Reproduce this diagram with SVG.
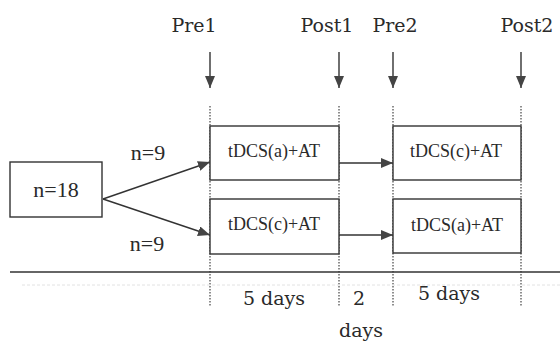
<svg xmlns="http://www.w3.org/2000/svg" width="560" height="344" viewBox="0 0 560 344">
<style>
.lbl{font-family:"DejaVu Serif",serif;font-size:19px;text-anchor:middle;fill:#2a2a2a}
.box{font-family:"Liberation Serif",serif;font-size:18px;text-anchor:middle;fill:#2a2a2a}
.n{font-family:"Liberation Serif",serif;font-size:22px;text-anchor:middle;fill:#2a2a2a}
rect{fill:#fff;stroke:#333;stroke-width:1.4}
.ln{stroke:#333;stroke-width:1.4;fill:none}
.dot{stroke:#444;stroke-width:1.2;stroke-dasharray:1.5 1.5;fill:none}
</style>
<defs>
<marker id="ah" markerWidth="12" markerHeight="10" refX="12" refY="5" orient="auto" markerUnits="userSpaceOnUse">
<path d="M0,0 L12,5 L0,10 Z" fill="#444"/>
</marker>
</defs>
<g id="timeline">
<path class="dot" d="M210,106V306M339,106V306M393,106V306M521,106V306"/>
<path class="ln" d="M10,272H560"/>
<path d="M22,285H560" stroke="#e2e2e2" stroke-width="1" stroke-dasharray="3 2"/>
</g>
<g id="labels">
<text class="lbl" x="194" y="32">Pre1</text>
<text class="lbl" x="327" y="32">Post1</text>
<text class="lbl" x="395" y="32">Pre2</text>
<text class="lbl" x="527" y="32">Post2</text>
<text class="n" x="148" y="160">n=9</text>
<text class="n" x="147" y="251">n=9</text>
<text class="lbl" x="274" y="305">5 days</text>
<text class="lbl" x="359" y="305">2</text>
<text class="lbl" x="361" y="337">days</text>
<text class="lbl" x="449" y="300">5 days</text>
</g>
<g id="connectors">
<path class="ln" marker-end="url(#ah)" d="M210,52V88"/>
<path class="ln" marker-end="url(#ah)" d="M339,52V88"/>
<path class="ln" marker-end="url(#ah)" d="M393,52V88"/>
<path class="ln" marker-end="url(#ah)" d="M521,52V88"/>
<path class="ln" marker-end="url(#ah)" d="M103,199L210,162"/>
<path class="ln" marker-end="url(#ah)" d="M103,199L210,235"/>
<path class="ln" marker-end="url(#ah)" d="M339,163H393"/>
<path class="ln" marker-end="url(#ah)" d="M339,235H393"/>
</g>
<g id="n18"><rect x="10" y="162" width="92" height="55"/><text class="n" x="56" y="197">n=18</text></g>
<g id="box1"><rect x="210" y="126" width="129" height="54"/><text class="box" x="274" y="157">tDCS(a)+AT</text></g>
<g id="box2"><rect x="210" y="199" width="129" height="55"/><text class="box" x="274" y="230">tDCS(c)+AT</text></g>
<g id="box3"><rect x="393" y="126" width="128" height="54"/><text class="box" x="456" y="157">tDCS(c)+AT</text></g>
<g id="box4"><rect x="393" y="199" width="128" height="54"/><text class="box" x="457" y="231">tDCS(a)+AT</text></g>
</svg>
